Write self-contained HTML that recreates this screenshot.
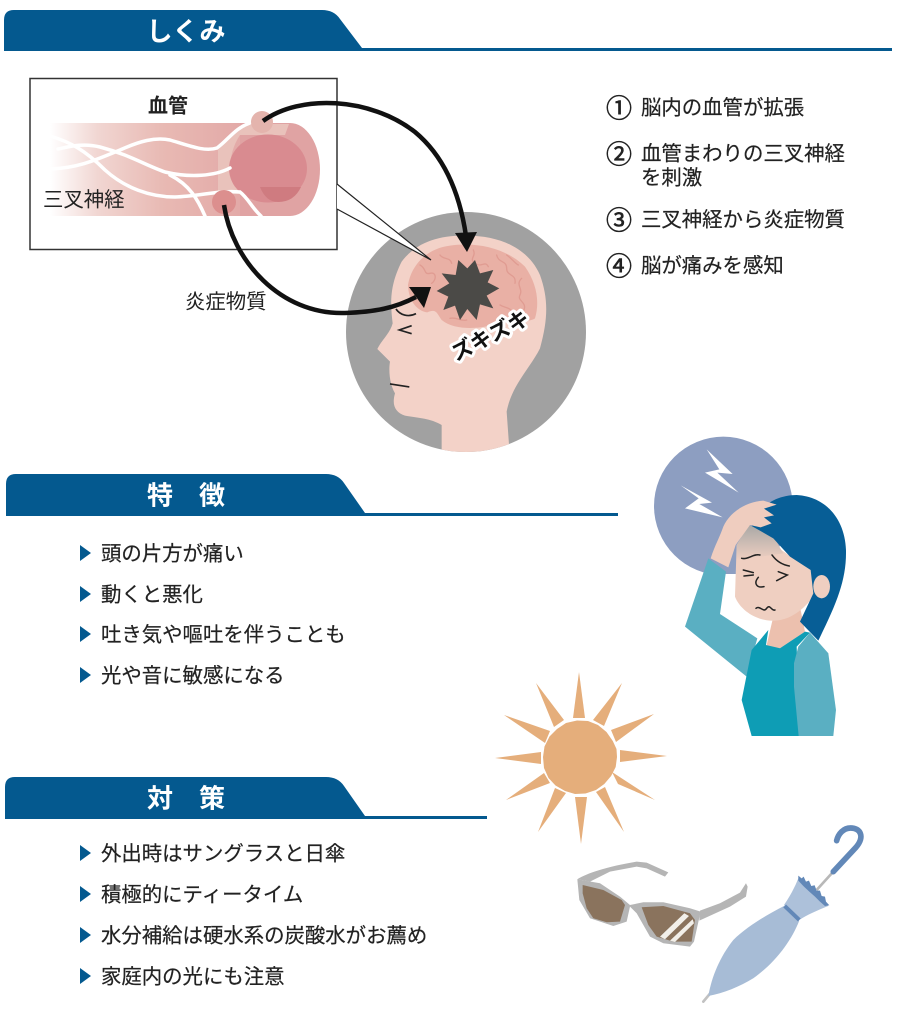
<!DOCTYPE html>
<html lang="ja"><head><meta charset="utf-8"><title>しくみ</title>
<style>
html,body{margin:0;padding:0;background:#fff;width:900px;height:1027px;overflow:hidden}
svg{display:block;filter:blur(.35px)}
text{font-family:"Liberation Sans","Noto Sans CJK JP",sans-serif;fill:#222;transform:translateY(1.300px)}
.b{font-size:20.4px;dominant-baseline:central;stroke:#222;stroke-width:.2px}
.n{font-size:26px;dominant-baseline:central;stroke:#222;stroke-width:.6px}
.h{font-size:26px;fill:#fff;font-weight:700;text-anchor:middle;dominant-baseline:central}
</style></head><body>
<svg width="900" height="1027" viewBox="0 0 900 1027" xmlns="http://www.w3.org/2000/svg">
<defs>
<linearGradient id="tube" x1="50" x2="240" y1="0" y2="0" gradientUnits="userSpaceOnUse">
<stop offset="0" stop-color="#fff"/><stop offset=".25" stop-color="#f1d6d2"/><stop offset=".6" stop-color="#e8b9b3"/><stop offset="1" stop-color="#e3aaa8"/></linearGradient>
<linearGradient id="fore" x1="0" x2="0" y1="0" y2="1"><stop offset="0" stop-color="#a9a8a6"/><stop offset="1" stop-color="#efcfc1"/></linearGradient>
<clipPath id="cc"><circle cx="466" cy="332" r="120"/></clipPath>
</defs>

<!-- headers -->
<path d="M4 51V20Q4 10 14 10H322Q334 10 340 19L362 48H892V51Z" fill="#04598f"/>
<text class="h" x="186" y="30">しくみ</text>
<path d="M6 516V484Q6 474 16 474H326Q338 474 344 483L365 513H618V516Z" fill="#04598f"/>
<text class="h" x="186" y="494">特　徴</text>
<path d="M5 819V787Q5 777 15 777H326Q338 777 344 786L365 816H487V819Z" fill="#04598f"/>
<text class="h" x="186" y="797">対　策</text>

<!-- inset box -->
<rect x="30" y="78.500" width="307" height="171" fill="#fff" stroke="#333" stroke-width="1.500"/>
<text x="168" y="105" font-size="20" font-weight="700" text-anchor="middle" dominant-baseline="central">血管</text>
<rect x="50" y="123" width="240" height="93" fill="url(#tube)"/>
<path d="M240 123H290A30 46.500 0 0 1 290 216H240Z" fill="#e0a3a3"/>
<path d="M218 150L240 128L253 124H289L285 135H240Q230 150 230 170Q230 180 235 187H258L250 194H218Z" fill="#e9c2bb"/>
<ellipse cx="268" cy="168.500" rx="39" ry="34" fill="#d98b90"/>
<path d="M260 187H301Q294 202 278 202Q266 202 260 187Z" fill="#cf7b80"/>
<g fill="none" stroke="#fff" stroke-width="3.500" stroke-linecap="round">
<path d="M58 149C72 146 84 143 100 147C130 155 145 165 165 172C190 178 215 176 230 168"/>
<path d="M50 169C80 168 100 158 120 150C140 141 155 137 170 140C190 146 205 152 217 148C228 140 235 128 250 123"/>
<path d="M50 136C70 142 85 150 105 170C125 188 150 197 175 197C200 196 220 190 240 192C248 198 252 208 261 216"/>
<path d="M170 175C190 185 198 200 205 216"/>
</g>
<circle cx="262" cy="122" r="11" fill="#e4b4ad"/>
<circle cx="224" cy="202" r="12" fill="#dc8f8e"/>
<text x="43" y="199" font-size="20.400" dominant-baseline="central">三叉神経</text>

<!-- face circle -->
<circle cx="466" cy="332" r="120" fill="#a1a1a1"/>
<g clip-path="url(#cc)">
<g transform="translate(340,205) scale(.3333)">
<path d="M305 760V660C270 640 240 640 195 632C165 622 155 600 165 565C150 540 145 500 150 470L112 432C125 405 150 385 158 355C150 290 150 240 185 170C230 110 300 90 380 92C480 92 565 130 600 210C625 280 625 340 600 430C570 490 515 540 500 620L510 760Z" fill="#f3d2c8"/>
<path d="M204 240C215 175 265 130 330 122C410 110 500 130 555 185C590 235 600 290 585 340C565 355 500 345 450 362C410 372 340 375 305 345C290 325 290 310 262 322C235 320 205 290 204 240Z" fill="#e9b0a5"/>
<g fill="none" stroke="#e09c92" stroke-width="4" stroke-linecap="round">
<path d="M240 180c20 10 10 30 30 25s20 20 5 30M300 150c10 15 30 5 35 25M400 135c10 20-15 25 5 40s30-10 40 10M470 150c5 25 30 15 30 40s30 15 25 45M545 220c-20 20 5 30-5 50s25 20 10 50M480 300c15 10 30 5 40 25M330 340c20-5 30 10 50 5M225 250c15-5 20 15 35 10M500 150c15 10 25 25 35 30"/>
</g>
<polygon points="355,165 382,190 405,165 420,205 460,195 443,232 478,250 440,272 460,310 420,298 410,345 382,312 360,345 345,302 310,315 325,275 290,258 328,235 305,205 347,210" fill="#4b4a47"/>
<path d="M168 312C180 330 205 338 228 326M215 362L178 375L215 386M150 537L208 546" fill="none" stroke="#222" stroke-width="5"/>
</g>
</g>
<g transform="rotate(-27 490 335)"><text x="490" y="335" font-size="21" font-weight="700" text-anchor="middle" dominant-baseline="central" stroke="#fff" stroke-width="6" stroke-linejoin="round" style="paint-order:stroke;fill:#111">ズキズキ</text></g>

<!-- callout -->
<path d="M337 184L431 260L337 209Z" fill="#fff"/>
<path d="M337 184L431 260L337 209" fill="none" stroke="#222" stroke-width="1.200"/>

<!-- arrows -->
<path d="M263 121C300 94 370 97 415 132C445 157 460 195 466 236" fill="none" stroke="#111" stroke-width="4.500"/>
<polygon points="467,252 455,233 477,232" fill="#111"/>
<path d="M224 205C232 260 280 315 345 313C375 312 395 308 416 297" fill="none" stroke="#111" stroke-width="4.500"/>
<polygon points="431,287 409,287 424,308" fill="#111"/>
<text x="185" y="301" font-size="20.400" dominant-baseline="central">炎症物質</text>

<!-- numbered list -->
<text class="n" x="606" y="107">①</text><text class="b" x="641" y="107">脳内の血管が拡張</text>
<text class="n" x="606" y="153">②</text><text class="b" x="641" y="153">血管まわりの三叉神経</text><text class="b" x="641" y="177">を刺激</text>
<text class="n" x="606" y="219">③</text><text class="b" x="641" y="219">三叉神経から炎症物質</text>
<text class="n" x="606" y="265">④</text><text class="b" x="641" y="265">脳が痛みを感知</text>

<!-- lists -->
<g fill="#04598f">
<polygon points="80,545 91,553 80,561"/><polygon points="80,586 91,594 80,602"/><polygon points="80,626 91,634 80,642"/><polygon points="80,667 91,675 80,683"/>
<polygon points="80,845 91,853 80,861"/><polygon points="80,886 91,894 80,902"/><polygon points="80,927 91,935 80,943"/><polygon points="80,968 91,976 80,984"/>
</g>
<text class="b" x="101" y="553">頭の片方が痛い</text>
<text class="b" x="101" y="594">動くと悪化</text>
<text class="b" x="101" y="634">吐き気や嘔吐を伴うことも</text>
<text class="b" x="101" y="675">光や音に敏感になる</text>
<text class="b" x="101" y="853">外出時はサングラスと日傘</text>
<text class="b" x="101" y="894">積極的にティータイム</text>
<text class="b" x="101" y="935">水分補給は硬水系の炭酸水がお薦め</text>
<text class="b" x="101" y="976">家庭内の光にも注意</text>

<!-- woman -->
<g transform="translate(640,430) scale(.3333)">
<circle cx="250" cy="228" r="208" fill="#8d9ec1"/>
<path d="M200 58L278 132L232 128L296 188L195 128L238 118ZM122 166L216 218L178 222L248 262L135 235L176 205Z" fill="#fff"/>
<path d="M252 432H300L330 630L240 600Z" fill="#fff"/>
<path d="M205 385L135 590L320 740L352 625L240 552L258 425Z" fill="#5aafc2"/>
<path d="M400 560L380 645L410 662L495 605L480 530Z" fill="#ecc0ae"/>
<path d="M385 600L335 660L305 810L335 918H480L470 650L510 608L495 605L420 655L378 645Z" fill="#0e9db5"/>
<path d="M510 608L565 670L588 840L580 918H476L462 770L462 700L475 650Z" fill="#5aafc2"/>
<path d="M325 290L290 345L285 500C300 540 350 575 405 572C450 570 490 540 520 500L525 420L460 385Z" fill="#efcfc1"/>
<path d="M325 285L290 345V390L430 370L395 310Z" fill="url(#fore)"/>
<path d="M335 288C345 240 400 195 470 195C560 200 615 270 618 360C620 450 590 520 535 632L480 575L520 490L512 420L450 380L400 325Z" fill="#075e96"/>
<ellipse cx="545" cy="470" rx="25" ry="35" fill="#efcfc1"/>
<path d="M212 385C225 345 240 320 250 290C270 245 320 215 370 212L410 224L372 236L402 256L372 262L395 280L362 292L330 285L287 345L265 412Z" fill="#efcdbf"/>
<path d="M305 385C325 390 340 370 360 375M396 375C410 395 430 405 448 408M340 428L310 420M340 435L312 438M415 425L442 435L410 452M355 442C340 460 350 475 372 470M348 535C360 525 370 550 380 535S395 545 405 540" fill="none" stroke="#222" stroke-width="4.500" stroke-linecap="round"/>
</g>

<!-- sun -->
<g fill="#e5ae7b">
<polygon points="617,757 615.700,767 611.100,776 604.300,784 596,790 585.500,793.500 575,794 565,791 555.500,785.500 548.500,778 544,768 543,757 544.500,746.500 549.500,736.500 557,729 566,723 577,720.500 588,721 598,725 606.500,732 612.800,741 616.500,749"/>
<polygon points="579,672 573,718 585,718"/>
<polygon points="536,683 554,727 564,720"/>
<polygon points="622,683 593,720 604,726"/>
<polygon points="504,715 545,743 550,731"/>
<polygon points="654,714 611,730 616,742"/>
<polygon points="495,758 541,764 541,752"/>
<polygon points="667,756 620,750 620,762"/>
<polygon points="506,800 550,783 544,773"/>
<polygon points="655,800 612,772 618,784"/>
<polygon points="538,832 566,793 555,788"/>
<polygon points="624,832 605,787 596,792"/>
<polygon points="581,844 587,797 575,797"/>
</g>

<!-- sunglasses -->
<g transform="translate(490,670) scale(.3333)">
<path d="M262 628C290 610 350 590 440 575L470 578L535 607L525 620L470 595L440 590L360 605L300 635Z" fill="#b5b5b5"/>
<path d="M630 722L690 700L750 668L768 640L773 650L768 680L720 710L628 752Z" fill="#b5b5b5"/>
<path d="M262 628L268 690L300 745L370 768L410 755L420 710L440 730L480 800L520 820L600 830L612 815L632 725L600 715L520 697H460L420 705L390 680L330 640Z" fill="#b5b5b5"/>
<path d="M278 645L340 660L395 690L405 705L390 755L350 757L310 745L290 715L278 670Z" fill="#8a735d"/>
<path d="M455 712L520 708L600 730L615 750L605 815L550 815L500 800L475 765Z" fill="#8a735d"/>
<path d="M510 800L583 730L597 738L525 808ZM540 812L608 748L612 760L555 816Z" fill="#f2efe9"/>
</g>

<!-- umbrella -->
<g transform="translate(490,670) scale(.3333)">
<path d="M980 660L1030 605" stroke="#b8b8b8" stroke-width="8" fill="none"/>
<path d="M1030 605L1098 532C1125 500 1112 474 1082 474C1060 474 1045 492 1040 512" fill="none" stroke="#6288b8" stroke-width="17" stroke-linecap="round"/>
<path d="M640 995L665 965" stroke="#c2c2c2" stroke-width="8" stroke-linecap="round"/>
<path d="M655 978C665 920 690 860 730 810C770 770 830 735 882 708L928 752C905 810 860 875 790 925C750 950 700 970 655 978Z" fill="#a7bcd6"/>
<path d="M882 705C900 680 915 650 925 625L1015 708C985 720 950 735 928 750Z" fill="#adc1da"/>
<path d="M925 617L935 625L941 620L948 635L957 632L964 648L974 646L980 662L990 662L995 678L1005 680L1008 695L1018 706L1005 708L990 695L975 680L958 665L940 648L925 632Z" fill="#6288b8"/>
<path d="M884 708L928 750" stroke="#6288b8" stroke-width="12"/>
</g>
</svg>
</body></html>
